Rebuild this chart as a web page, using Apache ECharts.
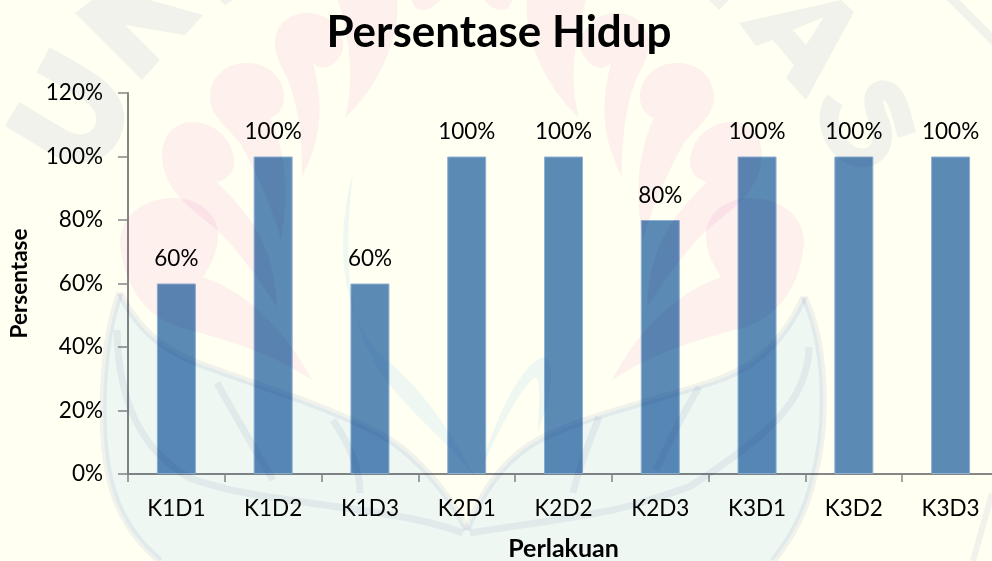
<!DOCTYPE html>
<html><head><meta charset="utf-8">
<style>html,body{margin:0;padding:0;background:#fffff2}#c{width:992px;height:561px}</style>
<script src="https://cdn.jsdelivr.net/npm/echarts@6/dist/echarts.min.js"></script>
</head><body><div id="c"></div>
<script>
const categories=['K1D1','K1D2','K1D3','K2D1','K2D2','K2D3','K3D1','K3D2','K3D3'];
const values=[60,100,60,100,100,80,100,100,100];
const font='Lato';
const axisGrey='#868686';
// faint background watermark (decoration only)
const PINK='rgb(253,240,250)',TEAL='rgb(238,247,254)',GREY='rgb(242,242,249)';
const flames=[
 'M120,243 C120,215 145,198 173,198 C200,198 218,215 218,235 C218,255 208,268 203,277 C240,290 280,320 312,380 C270,352 220,338 190,330 C160,325 125,300 120,243Z',
 'M162,157 C162,135 175,122 192,122 C215,122 234,140 234,163 C234,172 226,180 217,182 C250,215 275,245 277,307 C262,285 245,260 227,240 C205,215 165,200 162,157Z',
 'M210,97 C210,75 228,63 247,63 C270,63 284,80 284,97 C284,108 278,115 270,118 C285,150 290,190 281,240 C270,200 250,160 240,143 C225,125 210,115 210,97Z',
 'M275,43 C275,25 290,13 307,13 C330,13 345,30 343,50 C335,68 322,72 313,63 C325,110 320,140 302,177 C303,130 295,90 283,70 C278,60 275,52 275,43Z',
 'M338,0 L397,0 C400,30 385,80 345,118 C355,80 350,40 338,0Z',
 'M412,0 L440,0 C430,12 415,15 412,0Z'
];
const letters=[
 'M75,13 L92,0 L150,0 L203,15 L185,35 L125,25 L160,60 L142,80Z',
 'M220,0 L233,0 L225,5Z',
 'M739,23 L841,0 L854,12 L806,100 L786,78 L794,65 L773,40 L756,46Z M793,30 L806,45 L824,17Z',
 'M709,0 L729,0 L719,10Z'
];
const greyStrokes=[
 {d:'M12,114 L62,144 C95,158 112,135 110,115 C108,100 100,90 43,60',w:28},
 {d:'M835,100 C822,118 832,145 852,156 C878,165 890,140 878,118 C868,95 878,85 890,92 C900,100 902,120 907,135',w:19},
 {d:'M948,-5 L995,42',w:9},
 {d:'M992,493 L973,561',w:6}
];
const leaves=[
 'M120,293 C102,340 98,430 110,480 C118,515 135,540 160,561 L467,561 L467,530 C450,495 420,460 390,440 C340,410 270,390 197,363 C170,352 140,335 120,293Z',
 'M804,297 C825,340 830,420 813,480 C805,515 790,540 773,561 L467,561 L467,530 C480,495 500,465 530,445 C570,420 640,405 709,383 C745,372 780,350 804,297Z'
];
const veins=[
 'M120,293 C102,340 98,430 110,480 C118,515 135,540 160,561',
 'M120,293 C140,335 170,352 197,363 C270,390 340,410 390,440 C420,460 450,495 467,530',
 'M117,330 C118,400 140,450 190,478 C260,505 390,505 463,533',
 'M217,383 C235,415 255,450 273,480',
 'M333,420 C350,445 360,470 360,493',
 'M804,297 C825,340 830,420 813,480 C805,515 790,540 773,561',
 'M804,297 C780,350 745,372 709,383 C640,405 570,420 530,445 C500,465 480,495 467,530',
 'M809,347 C808,400 770,435 689,487 C650,500 620,510 596,513 C560,520 520,525 470,533',
 'M699,387 C685,410 670,440 656,470',
 'M599,417 C590,440 578,470 573,493'
];
const wm=[];
let shapeId=0;
function addPath(d,z,style,extra){
 const name='wm'+(shapeId++);
 echarts.graphic.registerShape(name,echarts.graphic.extendPath(d,{}));
 wm.push({type:name,silent:true,z:z,style:{...style,blend:'multiply'},...(extra||{})});
}
leaves.forEach(d=>addPath(d,50,{fill:TEAL}));
flames.forEach(d=>{
 addPath(d,51,{fill:PINK});
 addPath(d,51,{fill:PINK},{x:924,scaleX:-1});
});
['M353,173 C335,240 340,310 380,355 C420,385 450,430 477,480 C440,430 395,405 368,350 C345,300 345,240 353,173Z',
 'M480,470 C495,420 520,365 543,357 C555,360 555,385 538,432 C540,390 540,375 534,378 C515,395 495,440 480,470Z'
].forEach(d=>addPath(d,52,{fill:TEAL}));
letters.forEach(d=>addPath(d,53,{fill:GREY}));
greyStrokes.forEach(s=>addPath(s.d,53,{fill:'none',stroke:GREY,lineWidth:s.w}));
veins.forEach(d=>addPath(d,53,{fill:'none',stroke:GREY,lineWidth:7}));

const chart=echarts.init(document.getElementById('c'),null,{renderer:'canvas'});
chart.setOption({
 animation:false,
 backgroundColor:'#fffff2',
 graphic:{elements:wm},
 title:{text:'Persentase Hidup',left:494,top:6,textAlign:'center',textStyle:{fontFamily:font,fontSize:44,fontWeight:'bold',color:'#000'}},
 grid:{left:128,right:-7,top:93,bottom:87,containLabel:false,outerBoundsMode:'none'},
 xAxis:{type:'category',data:categories,name:'Perlakuan',nameLocation:'middle',nameGap:62,
  nameTextStyle:{fontFamily:font,fontSize:25,fontWeight:'bold',color:'#000'},
  axisLine:{lineStyle:{color:axisGrey,width:2}},axisTick:{show:true,length:8,lineStyle:{color:axisGrey,width:1.5}},
  axisLabel:{fontFamily:font,fontSize:22.5,color:'#000',margin:23}},
 yAxis:{type:'value',min:0,max:120,interval:20,name:'Persentase',nameLocation:'middle',nameGap:97,
  nameTextStyle:{fontFamily:font,fontSize:22.5,fontWeight:'bold',color:'#000'},
  axisLine:{show:true,lineStyle:{color:axisGrey,width:2}},axisTick:{show:true,length:10,lineStyle:{color:axisGrey,width:1.5}},
  splitLine:{show:false},
  axisLabel:{fontFamily:font,fontSize:22.5,color:'#000',margin:25,formatter:v=>v+'%'}},
 series:[{type:'bar',data:values,barWidth:39,itemStyle:{color:'#5b8ab5',borderColor:'#8fb1d2',borderWidth:1},
  label:{show:true,position:'top',distance:13,fontFamily:font,fontSize:22.5,color:'#000',formatter:p=>p.value+'%'}}]
});
</script></body></html>
